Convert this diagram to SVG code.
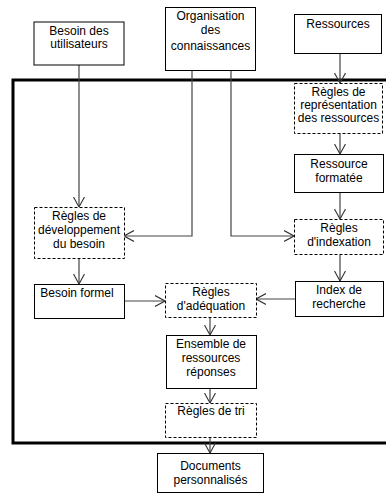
<svg xmlns="http://www.w3.org/2000/svg" width="386" height="498" viewBox="0 0 386 498">
<style>
text{font-family:"Liberation Sans",Arial,sans-serif;font-size:12px;fill:#000;text-anchor:middle}
.box{fill:#fff;stroke:#000;stroke-width:1}
.dash{fill:#fff;stroke:#000;stroke-width:1;stroke-dasharray:3,2}
.con{fill:none;stroke:#444;stroke-width:1.2}
</style>
<defs>
<marker id="ah" viewBox="0 0 10 12" refX="10" refY="6" markerWidth="10" markerHeight="12" markerUnits="userSpaceOnUse" orient="auto">
<path d="M0,0.5 L10,6 L0,11.5" fill="none" stroke="#333" stroke-width="1.1"/>
</marker>
</defs>
<rect x="13" y="80" width="400" height="363" fill="none" stroke="#000" stroke-width="3"/>
<g id="connectors">
<path class="con" d="M79,65 V207" marker-end="url(#ah)"/>
<path class="con" d="M192,70 V236 H124" marker-end="url(#ah)"/>
<path class="con" d="M231,70 V236 H294" marker-end="url(#ah)"/>
<path class="con" d="M340,53 V83" marker-end="url(#ah)"/>
<path class="con" d="M340,133 V154" marker-end="url(#ah)"/>
<path class="con" d="M340,192 V219" marker-end="url(#ah)"/>
<path class="con" d="M340,255 V281" marker-end="url(#ah)"/>
<path class="con" d="M79,258 V284" marker-end="url(#ah)"/>
<path class="con" d="M124,301 H165" marker-end="url(#ah)"/>
<path class="con" d="M295,299 H256" marker-end="url(#ah)"/>
<path class="con" d="M210,317 V335" marker-end="url(#ah)"/>
<path class="con" d="M210,388 V403" marker-end="url(#ah)"/>
<path class="con" d="M210,437 V453" marker-end="url(#ah)"/>
</g>
<g id="besoin-utilisateurs"><rect class="box" x="34" y="22" width="90" height="43"/><text x="79" y="35">Besoin des</text><text x="79" y="48">utilisateurs</text></g>
<g id="organisation"><rect class="box" x="165.5" y="7.5" width="90" height="63"/><text x="210.5" y="20">Organisation</text><text x="210.5" y="34">des</text><text x="210.5" y="50">connaissances</text></g>
<g id="ressources"><rect class="box" x="294.5" y="14.5" width="87" height="39"/><text x="338" y="28">Ressources</text></g>
<g id="regles-representation"><rect class="dash" x="294.5" y="83.5" width="88" height="50"/><text x="338.5" y="96">Règles de</text><text x="338.5" y="109">représentation</text><text x="338.5" y="122">des ressources</text></g>
<g id="ressource-formatee"><rect class="box" x="294.5" y="154.5" width="89" height="38"/><text x="339" y="168">Ressource</text><text x="339" y="182">formatée</text></g>
<g id="regles-indexation"><rect class="dash" x="294.5" y="219.5" width="89" height="35"/><text x="339" y="232">Règles</text><text x="339" y="246">d'indexation</text></g>
<g id="index-recherche"><rect class="box" x="295.5" y="281.5" width="88" height="35"/><text x="339" y="294">Index de</text><text x="339" y="308">recherche</text></g>
<g id="regles-developpement"><rect class="dash" x="34.5" y="207.5" width="90" height="51"/><text x="79" y="220">Règles de</text><text x="79" y="234">développement</text><text x="79" y="248">du besoin</text></g>
<g id="besoin-formel"><rect class="box" x="34.5" y="284.5" width="90" height="34"/><text x="77" y="297">Besoin formel</text></g>
<g id="regles-adequation"><rect class="dash" x="165.5" y="283.5" width="91" height="34"/><text x="211" y="296">Règles</text><text x="211" y="310">d'adéquation</text></g>
<g id="ensemble"><rect class="box" x="166.5" y="335.5" width="90" height="53"/><text x="211" y="348">Ensemble de</text><text x="211" y="362">ressources</text><text x="211" y="376">réponses</text></g>
<g id="regles-tri"><rect class="dash" x="165.5" y="403.5" width="91" height="34"/><text x="211" y="415">Règles de tri</text></g>
<g id="documents"><rect class="box" x="157.5" y="453.5" width="106" height="39"/><text x="210.5" y="470">Documents</text><text x="210.5" y="484">personnalisés</text></g>
</svg>
